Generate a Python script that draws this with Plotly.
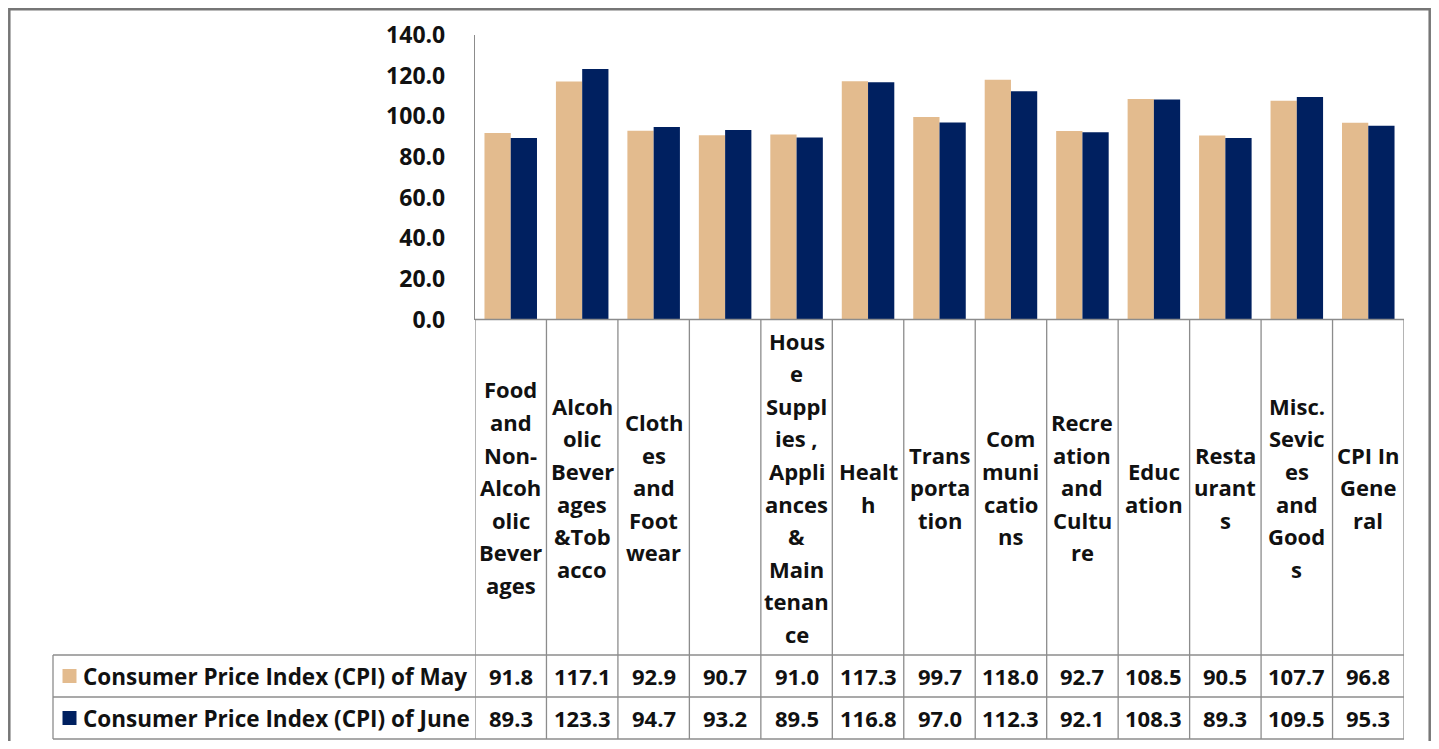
import plotly.graph_objects as go

# ---------------- data ----------------
categories = [
    "Food and Non-Alcoholic Beverages", "Alcoholic Beverages &Tobacco",
    "Clothes and Footwear", "", "House Supplies , Appliances & Maintenance",
    "Health", "Transportation", "Communications", "Recreation and Culture",
    "Education", "Restaurants", "Misc. Sevices and Goods", "CPI In General",
]
category_lines = [
    ["Food", "and", "Non-", "Alcoh", "olic", "Bever", "ages"],
    ["Alcoh", "olic", "Bever", "ages", "&Tob", "acco"],
    ["Cloth", "es", "and", "Foot", "wear"],
    [],
    ["Hous", "e", "Suppl", "ies ,", "Appli", "ances", "&", "Main", "tenan", "ce"],
    ["Healt", "h"],
    ["Trans", "porta", "tion"],
    ["Com", "muni", "catio", "ns"],
    ["Recre", "ation", "and", "Cultu", "re"],
    ["Educ", "ation"],
    ["Resta", "urant", "s"],
    ["Misc.", "Sevic", "es", "and", "Good", "s"],
    ["CPI In", "Gene", "ral"],
]
series_names = ["Consumer Price Index (CPI) of May", "Consumer Price Index (CPI) of June"]
cpi_may = [91.8, 117.1, 92.9, 90.7, 91.0, 117.3, 99.7, 118.0, 92.7, 108.5, 90.5, 107.7, 96.8]
cpi_june = [89.3, 123.3, 94.7, 93.2, 89.5, 116.8, 97.0, 112.3, 92.1, 108.3, 89.3, 109.5, 95.3]
y_tick_values = [0, 20, 40, 60, 80, 100, 120, 140]
series_values = [cpi_may, cpi_june]

# ---------------- style ----------------
OFF = 8  # page body margin
W, H = 1439 - 2 * OFF, 749 - 2 * OFF
COLORS = ["#E3BB8E", "#002060"]
GRID = "#8C8C8C"
FRAME = "#767676"
FONT = "Open Sans"
TXT = "#111111"


def X(px):
    return (px - OFF) / W


def Y(py):
    return 1 - (py - OFF) / H


n = len(categories)
idx = list(range(n))

fig = go.Figure()
for name, vals, col in zip(series_names, series_values, COLORS):
    fig.add_trace(go.Bar(x=idx, y=vals, name=name, marker=dict(color=col, line=dict(width=0)),
                         hovertext=categories, showlegend=False))

plot_left, plot_right, plot_top, plot_bottom = 475, 1404, 35, 319.5
row_top, row_mid, row_bot = 655, 697, 739
legend_left = 53

fig.update_layout(
    width=W, height=H, margin=dict(l=0, r=0, t=0, b=0, autoexpand=False),
    paper_bgcolor="white", plot_bgcolor="white", showlegend=False,
    barmode="group", bargap=0.265, bargroupgap=0,
    font=dict(family=FONT, color=TXT),
    xaxis=dict(domain=[X(plot_left), X(plot_right)], range=[-0.5, n - 0.5], automargin=False,
               showticklabels=False, showgrid=False, zeroline=False, showline=False, fixedrange=True),
    yaxis=dict(domain=[Y(plot_bottom), Y(plot_top)], range=[0, 140], tickvals=y_tick_values,
               tickformat=".1f", showgrid=False, zeroline=False, automargin=False,
               showline=True, linecolor=GRID, linewidth=1.3,
               ticks="", ticklabelstandoff=24,
               tickfont=dict(family=FONT, size=23, color=TXT, weight="bold"), fixedrange=True),
)

shapes = []
# outer frame (edges kept inside the drawable page area)
shapes.append(dict(type="rect", xref="paper", yref="paper", x0=X(9.3), x1=X(1429.7), y0=Y(800), y1=Y(9.3),
                   line=dict(color=FRAME, width=2.5)))
# category column separators
for k in range(n + 1):
    shapes.append(dict(type="line", xref="x", yref="paper", x0=k - 0.5, x1=k - 0.5,
                       y0=Y(row_bot), y1=Y(plot_bottom), line=dict(color=GRID, width=1.3)))
# axis baseline
shapes.append(dict(type="line", xref="paper", yref="paper", x0=X(plot_left), x1=X(plot_right),
                   y0=Y(plot_bottom), y1=Y(plot_bottom), line=dict(color=GRID, width=1.3)))
# data rows
for py in (row_top, row_mid, row_bot):
    shapes.append(dict(type="line", xref="paper", yref="paper", x0=X(legend_left), x1=X(plot_right),
                       y0=Y(py), y1=Y(py), line=dict(color=GRID, width=1.3)))
shapes.append(dict(type="line", xref="paper", yref="paper", x0=X(legend_left), x1=X(legend_left),
                   y0=Y(row_bot), y1=Y(row_top), line=dict(color=GRID, width=1.3)))

annotations = []
LINE_SP = 32.6
label_center = (plot_bottom + row_top) / 2
for i, lines in enumerate(category_lines):
    m = len(lines)
    for j, t in enumerate(lines):
        py = label_center + (j - (m - 1) / 2) * LINE_SP
        annotations.append(dict(x=i, y=Y(py), xref="x", yref="paper", text=t, showarrow=False,
                                xanchor="center", yanchor="middle",
                                font=dict(family=FONT, size=22, color=TXT, weight="bold")))

row_centers = [(row_top + row_mid) / 2, (row_mid + row_bot) / 2]
for s, (name, vals, col) in enumerate(zip(series_names, series_values, COLORS)):
    rc = row_centers[s]
    for i, v in enumerate(vals):
        annotations.append(dict(x=i, y=Y(rc), xref="x", yref="paper", text=f"{v:.1f}", showarrow=False,
                                xanchor="center", yanchor="middle",
                                font=dict(family=FONT, size=22, color=TXT, weight="bold")))
    shapes.append(dict(type="rect", xref="paper", yref="paper", x0=X(62.5), x1=X(76.5),
                       y0=Y(rc + 7), y1=Y(rc - 7), fillcolor=col, line=dict(width=0)))
    annotations.append(dict(x=X(81), y=Y(rc), xref="paper", yref="paper", text=name, showarrow=False,
                            xanchor="left", yanchor="middle",
                            font=dict(family=FONT, size=22.5, color=TXT, weight="bold")))

fig.update_layout(shapes=shapes, annotations=annotations)
fig.write_html("out.html")
